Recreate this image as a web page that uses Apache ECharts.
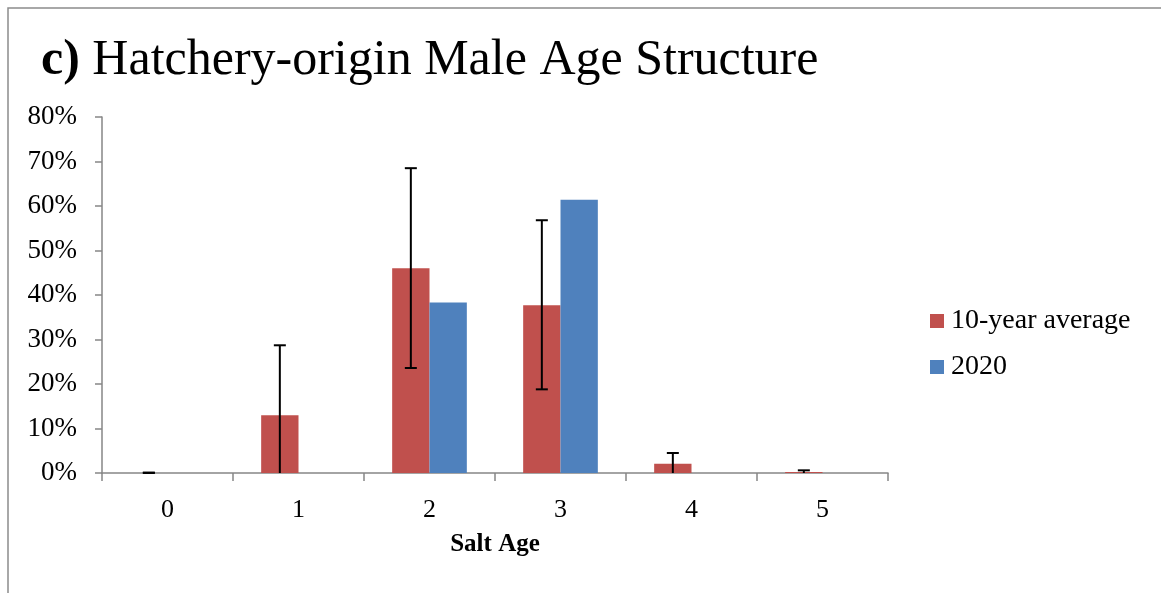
<!DOCTYPE html>
<html><head><meta charset="utf-8">
<script src="https://cdn.jsdelivr.net/npm/echarts@6/dist/echarts.min.js"></script>
<style>html,body{margin:0;padding:0;background:#fff}#c{width:1161px;height:593px}</style>
</head><body><div id="c"></div>
<script>
var categories = ['0','1','2','3','4','5'];
var avgValues = [0, 13.0, 46.0, 37.7, 2.1, 0.2];
var values2020 = [0, 0, 38.3, 61.4, 0, 0];
var errLow = [0, 0, 23.6, 18.8, 0, 0];
var errHigh = [0.1, 28.7, 68.5, 56.8, 4.5, 0.6];
var yTicks = [0, 10, 20, 30, 40, 50, 60, 70, 80];

var font = 'Liberation Serif';
var chart = echarts.init(document.getElementById('c'), null, {renderer: 'canvas'});
var catGap = 0.43;
var errData = categories.map(function (c, i) { return [i, errLow[i], errHigh[i], errLow[i] > 0 || errHigh[i] < 0.2 ? 1 : 0]; });

chart.setOption({
  animation: false,
  graphic: [{
    type: 'rect', shape: {x: 8, y: 8, width: 1200, height: 650},
    style: {fill: 'none', stroke: '#8c8c8c', lineWidth: 1.5}, silent: true
  }],
  title: {
    text: '{b|c)} Hatchery-origin Male Age Structure',
    left: 36, top: 31,
    textStyle: {
      fontFamily: font, fontSize: 50, fontWeight: 'normal', color: '#000',
      rich: {b: {fontFamily: font, fontSize: 50, fontWeight: 'bold', color: '#000'}}
    }
  },
  legend: {
    orient: 'vertical', left: 925, top: 302, itemGap: 18,
    itemWidth: 14, itemHeight: 14, icon: 'rect',
    textStyle: {fontFamily: font, fontSize: 28, color: '#000', padding: [0, 0, 0, 2]},
    data: ['10-year average', '2020']
  },
  grid: {left: 102, right: 273, top: 117, bottom: 120, containLabel: false},
  xAxis: {
    type: 'category', data: categories,
    name: 'Salt Age', nameLocation: 'middle', nameGap: 59,
    nameTextStyle: {fontFamily: font, fontSize: 25, fontWeight: 'bold', color: '#000'},
    axisLine: {lineStyle: {color: '#868686', width: 1.5}},
    axisTick: {show: true, length: 8, interval: 0, lineStyle: {color: '#868686', width: 1.5}},
    axisLabel: {fontFamily: font, fontSize: 26, color: '#000', margin: 24}
  },
  yAxis: {
    type: 'value', min: 0, max: 80, interval: 10,
    axisLine: {show: true, lineStyle: {color: '#868686', width: 1.5}},
    axisTick: {show: true, length: 7, lineStyle: {color: '#868686', width: 1.5}},
    splitLine: {show: false},
    axisLabel: {fontFamily: font, fontSize: 27, color: '#000', margin: 25,
      formatter: function (v) { return yTicks.indexOf(v) >= 0 ? v + '%' : ''; }}
  },
  series: [
    {name: '10-year average', type: 'bar', data: avgValues, barGap: '0%', barCategoryGap: (catGap * 100) + '%',
      itemStyle: {color: '#C0504D'}},
    {name: '2020', type: 'bar', data: values2020, barGap: '0%', barCategoryGap: (catGap * 100) + '%',
      itemStyle: {color: '#4F81BD'}},
    {
      type: 'custom', name: 'err', data: errData, z: 10,
      encode: {x: 0, y: [1, 2]},
      renderItem: function (params, api) {
        var i = api.value(0);
        var lo = api.coord([i, api.value(1)]);
        var hi = api.coord([i, api.value(2)]);
        var bw = api.size([1, 0])[0] * (1 - catGap) / 2;
        var x = lo[0] - bw / 2;
        var cap = 6;
        var st = {stroke: '#000', lineWidth: 2};
        var kids = [
          {type: 'line', shape: {x1: x, y1: lo[1], x2: x, y2: hi[1]}, style: st},
          {type: 'line', shape: {x1: x - cap, y1: hi[1], x2: x + cap, y2: hi[1]}, style: st}
        ];
        if (api.value(3) === 1) {
          kids.push({type: 'line', shape: {x1: x - cap, y1: lo[1], x2: x + cap, y2: lo[1]}, style: st});
        }
        return {type: 'group', children: kids};
      }
    }
  ]
});
</script></body></html>
